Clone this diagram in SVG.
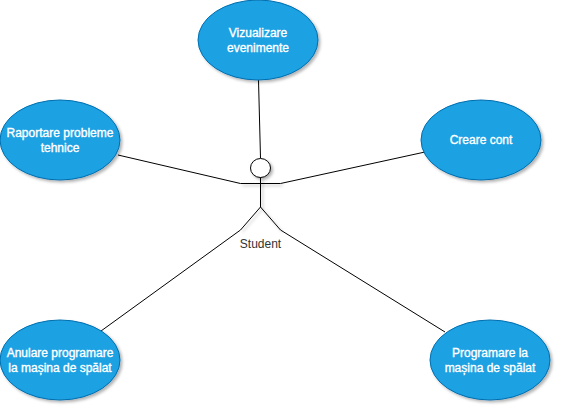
<svg xmlns="http://www.w3.org/2000/svg" width="562" height="412" viewBox="0 0 562 412">
<style>
.uc{fill:#1ba1e2;stroke:#006eaf;stroke-width:1}
.t{font-family:"Liberation Sans",Arial,sans-serif;font-size:12px;fill:#fff;text-anchor:middle;stroke:#fff;stroke-width:0.35px}
.l{fill:none;stroke:#000;stroke-width:1}
.a{font-family:"Liberation Sans",Arial,sans-serif;font-size:12px;fill:#333;text-anchor:middle}
</style>
<defs><filter id="s" x="-20%" y="-20%" width="150%" height="150%"><feDropShadow dx="2" dy="2" stdDeviation="1.5" flood-color="#000" flood-opacity="0.3"/></filter></defs>
<rect width="562" height="412" fill="#fff"/>
<g id="connectors" class="l">
<path d="M258.500 80L260.500 158"/>
<path d="M118 155L240.500 183.500"/>
<path d="M280.500 183.500L425 152"/>
<path d="M101 331L240.500 230"/>
<path d="M280.500 230L445 332"/>
</g>
<g id="student" filter="url(#s)">
<ellipse cx="260.500" cy="168" rx="10" ry="9.500" fill="#fff" stroke="#000"/>
<path class="l" d="M260.500 177.500V207M240.500 183.500H280.500M240.500 230L260.500 207L280.500 230"/>
</g>
<text class="a" x="260.500" y="248">Student</text>
<g id="vizualizare"><ellipse class="uc" filter="url(#s)" cx="258" cy="40" rx="60" ry="40"/><text class="t" x="258" y="36.500">Vizualizare</text><text class="t" x="258" y="51.500">evenimente</text></g>
<g id="raportare"><ellipse class="uc" filter="url(#s)" cx="60" cy="140" rx="60" ry="40"/><text class="t" x="60" y="136.500" textLength="107" lengthAdjust="spacing">Raportare probleme</text><text class="t" x="60" y="151.500">tehnice</text></g>
<g id="creare"><ellipse class="uc" filter="url(#s)" cx="481" cy="140" rx="60" ry="40"/><text class="t" x="481" y="144">Creare cont</text></g>
<g id="anulare"><ellipse class="uc" filter="url(#s)" cx="60" cy="360" rx="60" ry="40"/><text class="t" x="60" y="356.500">Anulare programare</text><text class="t" x="60" y="371.500">la mașina de spălat</text></g>
<g id="programare"><ellipse class="uc" filter="url(#s)" cx="490" cy="360" rx="60" ry="40"/><text class="t" x="490" y="356.500">Programare la</text><text class="t" x="490" y="371.500">mașina de spălat</text></g>
</svg>
